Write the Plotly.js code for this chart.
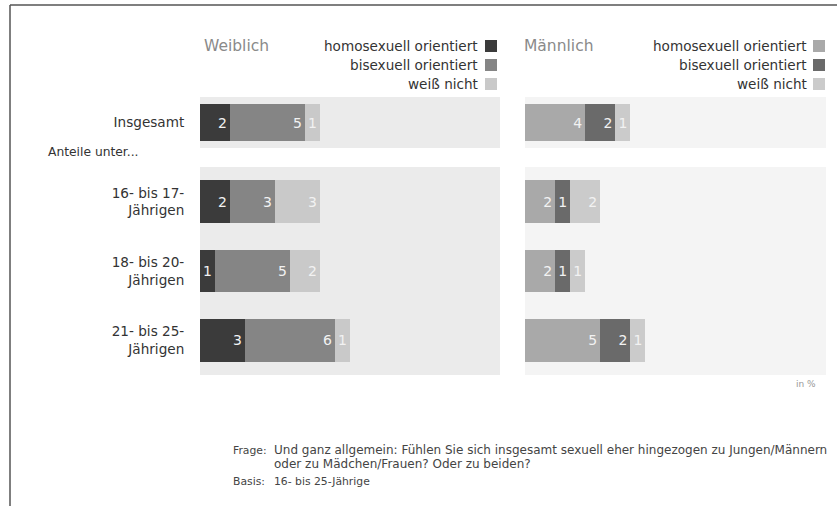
<!DOCTYPE html>
<html>
<head>
<meta charset="utf-8">
<script src="https://cdn.plot.ly/plotly-3.0.1.min.js"></script>
<style>html,body{margin:0;padding:0;background:#fff;}#chart{width:837px;height:506px;}</style>
</head>
<body>
<div id="chart"></div>
<script>
// ---- data (in %) ----
const totalLabel = ['Insgesamt'];
const ageGroups = ['16- bis 17-<br>Jährigen', '18- bis 20-<br>Jährigen', '21- bis 25-<br>Jährigen'];
const seriesNames = ['homosexuell orientiert', 'bisexuell orientiert', 'weiß nicht'];

const weiblichTotal = { homo: [2], bi: [5], wn: [1] };
const weiblichHomo = [2, 1, 3];
const weiblichBi   = [3, 5, 6];
const weiblichWn   = [3, 2, 1];

const maennlichTotal = { homo: [4], bi: [2], wn: [1] };
const maennlichHomo = [2, 2, 5];
const maennlichBi   = [1, 1, 2];
const maennlichWn   = [2, 1, 1];

const panelTitles = ['Weiblich', 'Männlich'];

// ---- styling ----
const FONT = 'DejaVu Sans, Verdana, sans-serif';
const colW = ['#3b3b3b', '#858585', '#c9c9c9'];
const colM = ['#a9a9a9', '#6a6a6a', '#cbcbcb'];
const txtCol = '#f2f2f2';

function bars(vals, cats, colors, xa, ya, width) {
  return vals.map((v, i) => ({
    type: 'bar', orientation: 'h', x: v, y: cats, name: seriesNames[i],
    marker: { color: colors[i], line: { width: 0 } },
    width: width, text: v.map(String), textposition: 'inside',
    insidetextanchor: 'end', constraintext: 'none',
    textfont: { family: FONT, size: 14, color: txtCol },
    xaxis: xa, yaxis: ya, showlegend: false, hoverinfo: 'skip'
  }));
}

const data = [
  ...bars([weiblichTotal.homo, weiblichTotal.bi, weiblichTotal.wn], totalLabel, colW, 'x', 'y', 0.72),
  ...bars([weiblichHomo, weiblichBi, weiblichWn], ageGroups, colW, 'x2', 'y2', 0.62),
  ...bars([maennlichTotal.homo, maennlichTotal.bi, maennlichTotal.wn], totalLabel, colM, 'x3', 'y3', 0.72),
  ...bars([maennlichHomo, maennlichBi, maennlichWn], ageGroups, colM, 'x4', 'y4', 0.62)
];

const W = 837, H = 506;
const px = v => v / W, py = v => 1 - v / H;
const domF = [px(200), px(500)], domM = [px(525), px(826)];
const domTop = [py(148), py(97)], domBot = [py(375), py(167)];

function xax(dom, anchor) {
  return { domain: dom, range: [0, 20], anchor: anchor, visible: false, fixedrange: true };
}
function yax(dom, anchor, showLabels, range) {
  return {
    domain: dom, anchor: anchor, type: 'category', range: range,
    showticklabels: showLabels, ticks: showLabels ? 'outside' : '', ticklen: 12, tickcolor: 'rgba(0,0,0,0)',
    showgrid: false, zeroline: false, showline: false,
    tickfont: { family: FONT, size: 13.6, color: '#333' }, fixedrange: true
  };
}

const shapes = [
  // frame lines
  { type: 'line', xref: 'paper', yref: 'paper', x0: px(10), x1: 1, y0: py(5), y1: py(5), line: { color: '#555', width: 1.5 } },
  { type: 'line', xref: 'paper', yref: 'paper', x0: px(10), x1: px(10), y0: py(5), y1: 0, line: { color: '#555', width: 1.5 } },
  // panel backgrounds
  { type: 'rect', xref: 'x domain', yref: 'y domain', x0: 0, x1: 1, y0: 0, y1: 1, fillcolor: '#ebebeb', line: { width: 0 }, layer: 'below' },
  { type: 'rect', xref: 'x2 domain', yref: 'y2 domain', x0: 0, x1: 1, y0: 0, y1: 1, fillcolor: '#ebebeb', line: { width: 0 }, layer: 'below' },
  { type: 'rect', xref: 'x3 domain', yref: 'y3 domain', x0: 0, x1: 1, y0: 0, y1: 1, fillcolor: '#f4f4f4', line: { width: 0 }, layer: 'below' },
  { type: 'rect', xref: 'x4 domain', yref: 'y4 domain', x0: 0, x1: 1, y0: 0, y1: 1, fillcolor: '#f4f4f4', line: { width: 0 }, layer: 'below' }
];

const annotations = [];
function ann(text, x, y, opts) {
  annotations.push(Object.assign({
    text: text, xref: 'paper', yref: 'paper', x: px(x), y: py(y), showarrow: false,
    xanchor: 'left', yanchor: 'middle', font: { family: FONT, size: 12, color: '#333' }
  }, opts || {}));
}

// panel titles
ann(panelTitles[0], 202, 46, { font: { family: FONT, size: 15.5, color: '#8a8a8a' } });
ann(panelTitles[1], 522, 46, { font: { family: FONT, size: 15.5, color: '#8a8a8a' } });

// custom legends (text right, square on right)
const legRows = [46, 65, 84];
[[colW, 480, 485], [colM, 809, 813]].forEach(([cols, tx, sx]) => {
  seriesNames.forEach((n, i) => {
    ann(n, tx, legRows[i], { xanchor: 'right', font: { family: FONT, size: 13.6, color: '#333' } });
    shapes.push({ type: 'rect', xref: 'paper', yref: 'paper', x0: px(sx), x1: px(sx + 12), y0: py(legRows[i] + 6), y1: py(legRows[i] - 6), fillcolor: cols[i], line: { width: 0 } });
  });
});

ann('Anteile unter...', 46, 152, { font: { family: FONT, size: 12.3, color: '#333' } });
ann('in %', 818, 384, { xanchor: 'right', font: { family: FONT, size: 9, color: '#999' } });

// footer
const footFont = { family: FONT, size: 12, color: '#444' };
const footFont2 = { family: FONT, size: 10.8, color: '#444' };
ann('Frage:', 231, 450, { font: footFont2 });
ann('Und ganz allgemein: Fühlen Sie sich insgesamt sexuell eher hingezogen zu Jungen/Männern', 272, 450, { font: footFont });
ann('oder zu Mädchen/Frauen? Oder zu beiden?', 272, 464, { font: footFont });
ann('Basis:', 231, 481, { font: footFont2 });
ann('16- bis 25-Jährige', 272, 481, { font: footFont2 });

const layout = {
  width: W, height: H, margin: { l: 0, r: 0, t: 0, b: 0 },
  paper_bgcolor: '#ffffff', plot_bgcolor: 'rgba(0,0,0,0)',
  barmode: 'stack', bargap: 0, showlegend: false,
  xaxis: xax(domF, 'y'), yaxis: yax(domTop, 'x', true, [-0.5, 0.5]),
  xaxis2: xax(domF, 'y2'), yaxis2: yax(domBot, 'x2', true, [2.5, -0.5]),
  xaxis3: xax(domM, 'y3'), yaxis3: yax(domTop, 'x3', false, [-0.5, 0.5]),
  xaxis4: xax(domM, 'y4'), yaxis4: yax(domBot, 'x4', false, [2.5, -0.5]),
  shapes: shapes, annotations: annotations,
  font: { family: FONT }
};

Plotly.newPlot('chart', data, layout, { displayModeBar: false, staticPlot: true });
</script>
</body>
</html>
